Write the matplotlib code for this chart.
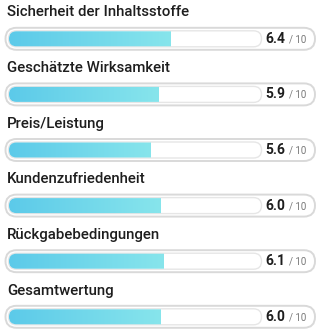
import numpy as np
import matplotlib
matplotlib.use("Agg")
import matplotlib.pyplot as plt
from matplotlib.patches import FancyBboxPatch
from matplotlib.colors import LinearSegmentedColormap

labels = ["Sicherheit der Inhaltsstoffe", "Geschätzte Wirksamkeit", "Preis/Leistung",
          "Kundenzufriedenheit", "Rückgabebedingungen", "Gesamtwertung"]
scores = [6.4, 5.9, 5.6, 6.0, 6.1, 6.0]
max_score = 10

W, H = 321, 330
fig = plt.figure(figsize=(W / 100, H / 100), dpi=100)
ax = fig.add_axes([0, 0, 1, 1])
ax.set_xlim(0, W)
ax.set_ylim(H, 0)
ax.axis("off")

font = "Roboto"
cmap = LinearSegmentedColormap.from_list("bar", ["#5ccae9", "#87e5ec"])
grad = np.linspace(0, 1, 256).reshape(1, -1)

step = 55.6
track_x0, track_x1 = 8.5, 261.5
for i, (lab, val) in enumerate(zip(labels, scores)):
    yt = 12.5 + i * step
    yb = 38.8 + i * step
    ax.text(7, yt, lab, fontsize=10.8, family=font, weight="medium", color="#1e1e1e",
            va="center", ha="left")

    # outer pill
    outer = FancyBboxPatch((5.5, yb - 11), 309.5, 22, boxstyle="round,pad=0,rounding_size=11",
                           fc="white", ec="#d9d9d9", lw=1.4)
    ax.add_patch(outer)
    # inner track
    track = FancyBboxPatch((track_x0, yb - 8), track_x1 - track_x0, 16,
                           boxstyle="round,pad=0,rounding_size=8",
                           fc="white", ec="#e6e6e6", lw=1.0, zorder=2)
    ax.add_patch(track)
    # gradient fill
    fill_end = track_x0 + (track_x1 - track_x0) * val / max_score
    im = ax.imshow(grad, cmap=cmap, aspect="auto", extent=(track_x0, fill_end, yb + 8, yb - 8),
                   zorder=3, interpolation="bilinear")
    clip = FancyBboxPatch((track_x0 + 0.5, yb - 7.5), track_x1 - track_x0 - 1, 15,
                          boxstyle="round,pad=0,rounding_size=7.5", fc="none", ec="none")
    ax.add_patch(clip)
    im.set_clip_path(clip)

    ax.text(285, yb, f"{val:.1f}", fontsize=10, family=font, weight="bold", color="#1e1e1e",
            va="center", ha="right")
    ax.text(289, yb + 0.5, "/ 10", fontsize=7, family=font, color="#777777", va="center", ha="left")

ax.set_xlim(0, W)
ax.set_ylim(H, 0)
fig.savefig("out.png", dpi=100)
